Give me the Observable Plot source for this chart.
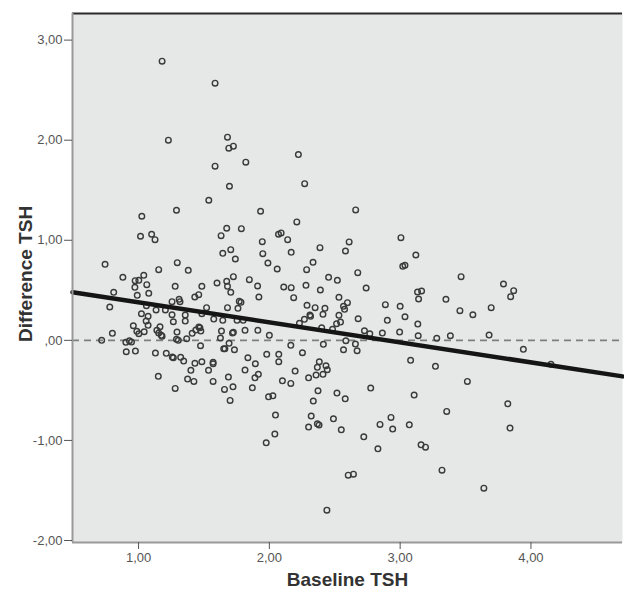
<!DOCTYPE html>
<html>
<head>
<meta charset="utf-8">
<script src="https://cdn.jsdelivr.net/npm/d3@7"></script>
<script src="https://cdn.jsdelivr.net/npm/@observablehq/plot@0.6"></script>
<style>
  html, body { margin: 0; padding: 0; background: #fff; }
  #chart svg { display: block; font-family: "Liberation Sans", Arial, sans-serif; }
</style>
</head>
<body>
<div id="chart"></div>
<script>
// Baseline TSH (x) and Difference TSH (y)
const baseline = [
  1.18,1.585,1.228,1.68,1.69,1.725,1.585,1.82,1.695,1.537,2.222,2.27,
  1.29,1.025,1.015,1.10,1.126,0.744,1.296,1.154,1.38,0.88,1.04,0.974,1.002,1.063,0.972,1.28,1.484,0.81,1.078,0.99,1.46,1.43,1.256,1.31,1.317,0.78,1.52,
  1.06,1.134,1.205,1.256,1.357,1.022,1.073,1.058,1.266,1.357,1.073,0.96,1.164,1.461,1.438,1.41,0.987,1.002,1.043,1.14,1.154,1.174,1.18,0.80,1.294,1.29,1.304,1.368,0.718,0.903,0.93,0.946,1.474,0.906,0.976,1.129,1.212,1.258,1.266,1.322,1.345,1.431,1.484,1.40,1.535,1.151,1.375,1.423,1.28,
  1.933,2.21,1.674,1.786,1.631,2.07,2.09,1.946,2.14,2.387,1.705,1.644,1.95,2.167,1.74,1.989,2.334,2.06,2.285,2.453,1.725,1.847,1.60,1.674,1.68,1.91,2.11,2.167,2.28,2.39,1.705,1.92,2.186,1.77,1.783,2.288,2.35,1.68,1.76,2.425,
  1.484,1.575,1.644,1.753,1.80,2.31,2.315,2.41,2.268,2.23,1.469,1.476,1.634,1.718,1.725,1.814,1.912,2.0,1.626,1.692,1.651,1.66,1.733,2.164,2.413,2.253,1.98,2.072,1.836,2.072,1.893,1.57,1.57,2.382,2.433,2.443,2.367,1.814,2.197,2.357,2.41,1.687,1.916,1.89,2.30,2.10,2.164,1.57,1.722,1.657,1.87,2.372,1.994,2.027,1.70,2.336,2.047,2.32,2.367,2.38,2.30,
  2.66,3.006,2.61,2.582,3.12,3.02,3.037,2.676,2.52,3.466,2.74,3.133,3.164,2.532,3.141,2.597,2.567,2.575,2.887,3.0,3.35,
  2.532,2.514,2.544,2.679,2.902,3.037,3.135,2.40,2.483,2.727,2.768,2.864,2.996,3.138,3.28,2.585,2.658,2.567,2.671,3.08,3.27,2.517,2.58,2.775,3.107,3.356,2.49,2.93,2.846,3.07,2.55,2.943,
  3.79,3.868,3.845,3.457,3.556,3.696,3.384,3.68,3.942,3.514,4.153,
  3.823,3.84,2.042,1.976,2.722,2.83,3.16,3.194,2.603,2.643,3.32,3.64,2.44
];
const difference = [
  2.79,2.57,2.00,2.03,1.92,1.94,1.74,1.78,1.54,1.40,1.856,1.566,
  1.30,1.24,1.04,1.06,1.006,0.76,0.776,0.706,0.70,0.63,0.65,0.596,0.60,0.556,0.53,0.54,0.54,0.48,0.47,0.45,0.456,0.433,0.386,0.41,0.386,0.333,0.326,
  0.346,0.303,0.303,0.256,0.253,0.266,0.24,0.193,0.186,0.193,0.15,0.146,0.136,0.133,0.103,0.07,0.09,0.066,0.086,0.10,0.073,0.05,0.04,0.07,0.083,0.01,0.0,0.016,0.0,-0.02,-0.004,-0.017,-0.054,-0.114,-0.107,-0.127,-0.13,-0.167,-0.174,-0.17,-0.207,-0.23,-0.214,-0.30,-0.30,-0.36,-0.387,-0.41,-0.48,
  1.29,1.183,1.12,1.116,1.046,1.06,1.073,0.986,1.006,0.926,0.906,0.87,0.866,0.88,0.813,0.773,0.78,0.713,0.706,0.63,0.636,0.606,0.573,0.59,0.54,0.543,0.533,0.526,0.55,0.503,0.48,0.433,0.426,0.39,0.38,0.35,0.326,0.326,0.32,0.32,
  0.266,0.213,0.20,0.20,0.20,0.253,0.24,0.26,0.21,0.17,0.126,0.093,0.093,0.073,0.08,0.10,0.10,0.05,0.023,-0.03,-0.084,-0.084,-0.094,-0.05,-0.04,-0.124,-0.14,-0.14,-0.174,-0.214,-0.234,-0.22,-0.235,-0.214,-0.254,-0.294,-0.27,-0.297,-0.307,-0.347,-0.34,-0.367,-0.34,-0.374,-0.374,-0.404,-0.43,-0.41,-0.464,-0.49,-0.474,-0.504,-0.564,-0.554,-0.60,-0.607,-0.747,-0.757,-0.834,-0.847,-0.867,
  1.303,1.026,0.983,0.893,0.853,0.74,0.75,0.676,0.60,0.636,0.523,0.483,0.493,0.43,0.413,0.376,0.34,0.31,0.356,0.34,0.41,
  0.25,0.166,0.183,0.216,0.20,0.236,0.163,0.126,0.11,0.096,0.066,0.073,0.083,0.046,0.02,-0.004,-0.037,-0.094,-0.104,-0.20,-0.26,-0.527,-0.584,-0.477,-0.547,-0.71,-0.784,-0.77,-0.84,-0.844,-0.894,-0.887,
  0.563,0.496,0.436,0.296,0.256,0.326,0.046,0.053,-0.09,-0.41,-0.24,
  -0.634,-0.877,-0.937,-1.024,-0.964,-1.084,-1.044,-1.067,-1.347,-1.337,-1.297,-1.477,-1.697
];

// Linear fit line (total) as shown in the reference
const fitIntercept = 0.58;
const fitSlope = -0.2;

const xDomain = [0.495, 4.70];
const yDomain = [-2.02, 3.266];
const xTicks = [1, 2, 3, 4];
const yTicks = [-2, -1, 0, 1, 2, 3];
const xLabel = "Baseline TSH";
const yLabel = "Difference TSH";

const points = baseline.map((b, i) => ({x: b, y: difference[i]}));
const fitLine = xDomain.map(x => ({x, y: fitIntercept + fitSlope * x}));
const fmt = d => {
  const s = Math.abs(d).toFixed(2).replace(".", ",");
  const t = Math.abs(d) < 1 ? s.replace(/^0/, "") : s;
  return (d < 0 ? "-" : "") + t;
};

const chart = Plot.plot({
  width: 624,
  height: 593,
  marginLeft: 72,
  marginRight: 2,
  marginTop: 13,
  marginBottom: 51,
  style: {fontFamily: '"Liberation Sans", Arial, sans-serif', background: "#fff"},
  x: {domain: xDomain},
  y: {domain: yDomain},
  marks: [
    Plot.frame({fill: "#e6e7e7", stroke: null}),
    Plot.ruleY([0], {stroke: "#7f7f7f", strokeWidth: 1.8, strokeDasharray: "7,5"}),
    Plot.dot(points, {x: "x", y: "y", r: 2.8, stroke: "#3a3a3a", strokeWidth: 1.4, fill: "none"}),
    Plot.line(fitLine, {x: "x", y: "y", stroke: "#151515", strokeWidth: 4.5}),
    Plot.ruleY([yDomain[1]], {stroke: "#2a2a2a", strokeWidth: 2}),
    Plot.ruleX([xDomain[0]], {stroke: "#999", strokeWidth: 2}),
    Plot.ruleY([yDomain[0]], {stroke: "#999", strokeWidth: 2}),
    Plot.axisX({ticks: xTicks, tickFormat: fmt, tickSize: 7, tickPadding: 3, fontSize: 13, color: "#555", label: null}),
    Plot.axisY({ticks: yTicks, tickFormat: fmt, tickSize: 8, tickPadding: 2, fontSize: 13, color: "#555", label: null}),
    Plot.text([xLabel], {frameAnchor: "bottom", dy: 37, lineAnchor: "middle", textAnchor: "middle", text: d => d, fontSize: 19, fontWeight: "bold", fill: "#333"}),
    Plot.text([yLabel], {frameAnchor: "left", dx: -47, dy: -4, rotate: -90, lineAnchor: "middle", textAnchor: "middle", text: d => d, fontSize: 19, fontWeight: "bold", fill: "#333"})
  ]
});
document.getElementById("chart").appendChild(chart);
</script>
</body>
</html>
